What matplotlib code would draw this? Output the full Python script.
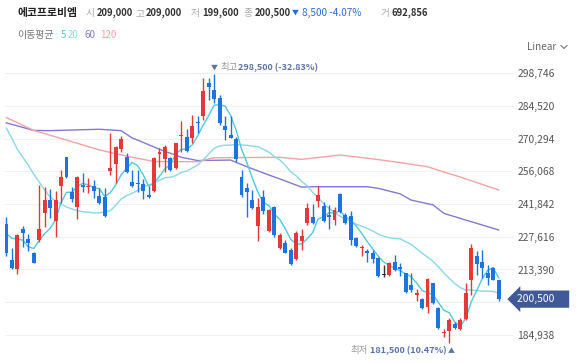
import matplotlib
matplotlib.use("Agg")
import matplotlib.pyplot as plt
import numpy as np
import pandas as pd

plt.rcParams['font.family'] = ['Noto Sans CJK KR', 'DejaVu Sans']

# daily candles (open, high, low, close), oldest first
opens = [233000, 217500, 213600, 231000, 226700, 220400, 226200, 238100, 243600, 234300,
         249700, 262200, 247200, 240400, 250100, 249400, 249700, 245400, 245100, 256200,
         259300, 265700, 262500, 251600, 250900, 250600, 245400, 247700, 263500, 261300,
         262000, 257400, 271500, 271200, 270500, 277700, 280200, 294700, 291500, 287900,
         275800, 271900, 270200, 253500, 249000, 243600, 232300, 244800, 230300, 240700,
         222600, 224800, 221900, 217800, 225900, 233500, 236400, 243200, 241200, 237100,
         234900, 246200, 237100, 236800, 226900, 222600, 221600, 220400, 218500, 210800,
         211000, 216800, 214600, 211700, 206600, 202300, 200400, 197200, 207400, 196500,
         185600, 186800, 189700, 187400, 191700, 208800, 219300, 216800, 212000, 213900,
         209000]
highs = [236400, 222600, 228800, 232500, 228800, 221100, 250100, 249100, 248300, 247700,
         256700, 262500, 249400, 254100, 255200, 253000, 252300, 248700, 248700, 272900,
         267100, 271500, 264200, 256700, 256700, 252600, 249700, 262200, 266100, 267600,
         262500, 268600, 278000, 274400, 280600, 280200, 296600, 296600, 298500, 289300,
         280200, 280200, 271200, 256700, 250900, 248000, 244300, 248000, 239500, 241000,
         229100, 226200, 222900, 230300, 230900, 242200, 241700, 249700, 242900, 241400,
         240700, 246500, 237800, 239000, 227700, 224000, 222200, 221900, 219000, 215300,
         216800, 219700, 216100, 211900, 211700, 204800, 200800, 209500, 207700, 197200,
         187400, 192100, 190700, 192100, 207700, 224500, 221600, 221900, 215300, 214600,
         209000]
lows = [219300, 213500, 211400, 223000, 221600, 216200, 225500, 231700, 235600, 227700,
        242200, 253000, 242900, 235200, 247200, 246500, 244300, 241900, 236100, 254500,
        250900, 264700, 255200, 249400, 247200, 243900, 244300, 247200, 258100, 256000,
        256400, 257000, 264700, 264700, 268300, 272600, 278400, 287100, 285700, 276300,
        269700, 270500, 260300, 245100, 236400, 239600, 225800, 237500, 229800, 227700,
        222200, 220400, 215300, 217500, 221900, 232700, 233200, 240700, 234200, 230900,
        232700, 237800, 233000, 224000, 223000, 219300, 216800, 216400, 210300, 210300,
        210600, 212700, 210600, 203300, 203700, 199800, 196100, 194300, 198400, 187400,
        184200, 181500, 187400, 187100, 191400, 202300, 211000, 209500, 206600, 208800,
        199600]
closes = [220400, 213900, 228400, 229100, 224800, 216400, 231000, 243600, 240300, 243600,
          253500, 253800, 243900, 253800, 249400, 249900, 247700, 242200, 236700, 257400,
          266800, 270000, 256000, 249700, 250400, 247500, 245100, 262000, 264700, 266800,
          256700, 268300, 271900, 265100, 276000, 277000, 291200, 292600, 287600, 277000,
          274100, 270700, 261300, 245800, 247200, 240000, 240700, 239000, 239300, 228400,
          228400, 220700, 215800, 229400, 228000, 240000, 233800, 245800, 234500, 236400,
          239300, 238500, 233500, 226200, 223600, 223300, 220700, 217800, 210600, 210800,
          216400, 213200, 213500, 203700, 204500, 203000, 196500, 209100, 198700, 187800,
          185900, 191400, 188100, 191400, 203300, 222600, 215800, 213900, 209800, 209000,
          200500]
volume = 692856

ma5_head = [229100, 227000, 226500, 226200]
ma20_head = [274900, 270600, 265800, 262300, 258900, 254900, 251500, 248000, 244900, 243200,
             241900, 240600, 239700, 239100, 238500, 238300, 238000, 238000, 238400]
ma60_idx = [0, 5, 8, 17, 21, 23, 24, 28, 32, 35, 41, 44, 48, 50, 54, 56, 61, 66, 68, 72,
            74, 78, 80, 84, 90]
ma60_val = [277200, 273900, 273800, 274400, 273800, 270600, 269700, 265700, 262200, 260800,
            261000, 258100, 254500, 252800, 249200, 249400, 249400, 249400, 248700, 246300,
            243600, 241500, 237800, 234900, 230600]
ma120_idx = [0, 5, 11, 17, 23, 27, 31, 35, 38, 50, 54, 61, 66, 68, 72, 77, 80, 83, 90]
ma120_val = [279500, 273900, 269700, 265400, 262200, 260400, 260300, 260300, 262000, 262200,
             261300, 263200, 261800, 261200, 259900, 258100, 255800, 253600, 248000]

ytick_vals = [184938, 199164, 213390, 227616, 241842, 256068, 270294, 284520, 298746]
ytick_labels = ["184,938", "", "213,390", "227,616", "241,842", "256,068", "270,294",
                "284,520", "298,746"]
ma_names = ["5", "20", "60", "120"]

RED = "#e5383b"
BLUE = "#1d74e0"
C_MA5 = "#4fc9de"
C_MA20 = "#8ad8e8"
C_MA60 = "#8478d4"
C_MA120 = "#f2a3a3"
ma_colors = [C_MA5, C_MA20, C_MA60, C_MA120]

W, H = 580, 363
fig = plt.figure(figsize=(W / 100, H / 100), dpi=100)
ax = fig.add_axes([5 / W, 11 / H, 508 / W, 302 / H])

n = len(closes)
x = np.arange(n)
close_s = pd.Series(closes, dtype=float)
ma5 = close_s.rolling(5).mean().to_numpy()
ma5[:4] = ma5_head
ma20 = close_s.rolling(20).mean().to_numpy()
ma20[:19] = ma20_head

ax.plot(ma60_idx, ma60_val, color=C_MA60, lw=1.0, zorder=2)
ax.plot(ma120_idx, ma120_val, color=C_MA120, lw=1.0, zorder=2)
ax.plot(x, ma20, color=C_MA20, lw=1.0, zorder=2)
ax.plot(x, ma5, color=C_MA5, lw=1.0, zorder=2)

for i in range(n):
    o, h, l, c = opens[i], highs[i], lows[i], closes[i]
    col = RED if c > o else (BLUE if c < o else "#333333")
    ax.vlines(i, l, h, color=col, lw=1.0, zorder=3)
    body = max(abs(c - o), 500)
    ax.bar(i, body, bottom=min(o, c), width=0.72, color=col, zorder=4, linewidth=0)

ax.set_xlim(-0.24, 92.63)
ax.set_ylim(177498, 308883)
ax.set_xticks([])
ax.set_yticks(ytick_vals)
ax.set_yticklabels(ytick_labels)
ax.yaxis.tick_right()
ax.tick_params(axis='y', length=0, pad=3, labelsize=7.4, labelcolor="#555555")
ax.grid(axis='y', color="#f1f1f1", lw=0.8, zorder=0)
for s in ax.spines.values():
    s.set_visible(False)

# last price tag
last = closes[-1]
ax.annotate(f"{last:,}     ", xy=(1.0, last), xycoords=ax.get_yaxis_transform(),
            xytext=(4, 0), textcoords="offset pixels", ha="left", va="center",
            fontsize=7.4, color="white", annotation_clip=False,
            bbox=dict(boxstyle="larrow,pad=0.35", fc="#3f5a96", ec="none"))

# highest / lowest markers
imax = int(np.argmax(highs))
imin = int(np.argmin(lows))
hi, lo = highs[imax], lows[imin]
MARK = "#5b74a8"
ax.annotate("▼", xy=(imax, hi), xytext=(0, 6), textcoords="offset pixels",
            ha="center", va="center", fontsize=5, color=MARK, annotation_clip=False)
ax.annotate("최고", xy=(imax, hi), xytext=(6, 6), textcoords="offset pixels",
            ha="left", va="center", fontsize=6.8, color="#999999", annotation_clip=False)
ax.annotate(f"{hi:,} ({(last - hi) / hi * 100:.2f}%)", xy=(imax, hi), xytext=(24, 6),
            textcoords="offset pixels", ha="left", va="center", fontsize=6.5,
            color=MARK, fontweight="bold", annotation_clip=False)
ax.annotate("▲", xy=(imin, lo), xytext=(2, -8), textcoords="offset pixels",
            ha="center", va="center", fontsize=5, color=MARK, annotation_clip=False)
low_txt = ax.annotate(f"{lo:,} ({(last - lo) / lo * 100:.2f}%)", xy=(imin, lo), xytext=(-3, -8),
                      textcoords="offset pixels", ha="right", va="center", fontsize=6.5,
                      color=MARK, fontweight="bold", annotation_clip=False)
fig.canvas.draw()
low_w = low_txt.get_window_extent().width
ax.annotate("최저", xy=(imin, lo), xytext=(-3 - low_w - 2, -8), textcoords="offset pixels",
            ha="right", va="center", fontsize=6.8, color="#999999", annotation_clip=False)


def ftxt(px, py, s, **kw):
    fig.text(px / W, 1 - py / H, s, va="center", **kw)


# header
o, h, l, c = opens[-1], highs[-1], lows[-1], closes[-1]
chg = c - closes[-2]
ftxt(17, 13, "에코프로비엠", fontsize=7.8, fontweight="bold", color="#222222")
for px, lab in [(86, "시"), (135, "고"), (191, "저"), (244, "종"), (381, "거")]:
    ftxt(px, 13, lab, fontsize=7, color="#aaaaaa")
for px, val in [(97, o), (146, h), (202, l), (255, c), (392, volume)]:
    ftxt(px, 13, f"{val:,}", fontsize=6.8, color="#333333", fontweight="bold")
ftxt(292, 13, "▼", fontsize=5, color="#2a6bd8")
ftxt(302, 13, f"{abs(chg):,} {chg / closes[-2] * 100:.2f}%", fontsize=7.2, color="#2a6bd8")

ftxt(17, 35, "이동평균", fontsize=7.2, color="#777777")
for px, name, col in zip([61, 68, 85, 100], ma_names, ma_colors):
    ftxt(px, 35, name, fontsize=7, color=col)

ftxt(527, 47, "Linear", fontsize=7.2, color="#666666")
fig.add_artist(plt.Line2D([561 / W, 564 / W, 567 / W], [1 - 45.5 / H, 1 - 48.5 / H, 1 - 45.5 / H],
                          color="#777777", lw=0.8))

fig.savefig("out.png", dpi=100, facecolor="white")
